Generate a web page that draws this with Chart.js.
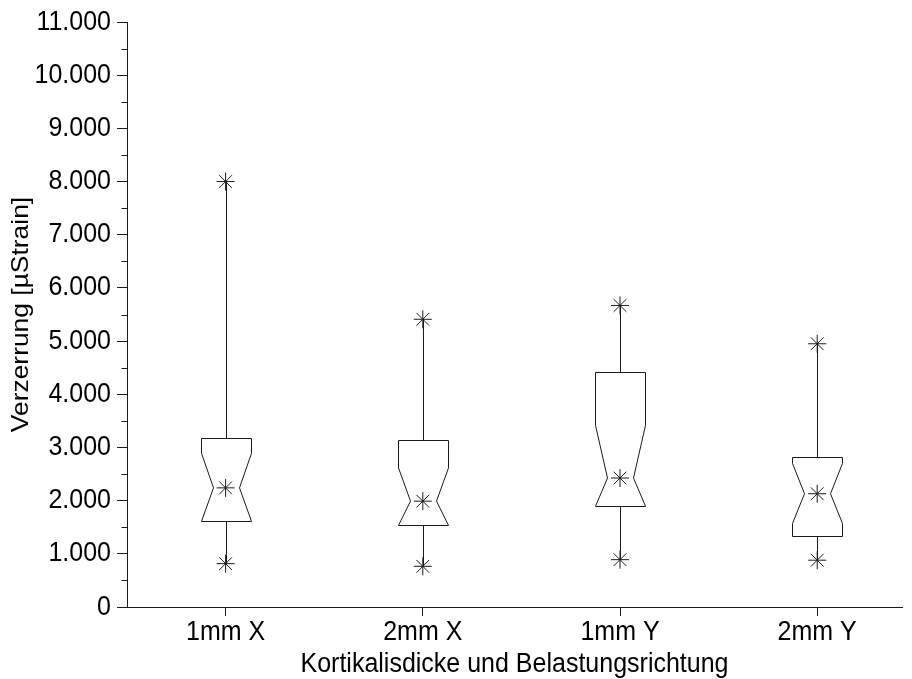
<!DOCTYPE html>
<html lang="de">
<head>
<meta charset="utf-8">
<title>Verzerrung nach Kortikalisdicke</title>
<script src="https://cdn.jsdelivr.net/npm/chart.js@4.4.1/dist/chart.umd.min.js"></script>
<style>
  html, body { margin: 0; padding: 0; background: #fff; }
  #wrap { width: 912px; height: 679px; position: relative; }
</style>
</head>
<body>
<div id="wrap"><canvas id="boxChart"></canvas></div>
<script>
// Kategorien (Kortikalisdicke / Belastungsrichtung)
const categories = ['1mm X', '2mm X', '1mm Y', '2mm Y'];

// Kennwerte je Gruppe in µStrain
const maxVals       = [8000, 5410, 5670, 4950];
const q3Vals        = [3185, 3135, 4420, 2820];
const notchHighVals = [2890, 2615, 3415, 2700];
const medianVals    = [2240, 1990, 2425, 2130];
const notchLowVals  = [1610, 1535, 1895, 1570];
const q1Vals        = [1610, 1535, 1895, 1335];
const minVals       = [815, 765, 890, 880];

const yTicks      = [0, 1000, 2000, 3000, 4000, 5000, 6000, 7000, 8000, 9000, 10000, 11000];
const yTickLabels = ['0', '1.000', '2.000', '3.000', '4.000', '5.000', '6.000', '7.000', '8.000', '9.000', '10.000', '11.000'];

const xTitle = 'Kortikalisdicke und Belastungsrichtung';
const yTitle = 'Verzerrung [µStrain]';

const FONT = "'Liberation Sans', Arial, sans-serif";
const INK = '#1a1a1a';

// Sternmarker: Maximum, Median, Minimum
const starPoints = [];
categories.forEach((c, i) => {
  starPoints.push({ x: i + 1, y: maxVals[i] });
  starPoints.push({ x: i + 1, y: medianVals[i] });
  starPoints.push({ x: i + 1, y: minVals[i] });
});

// Text mit leicht gestreckter Höhe
function drawText(ctx, text, x, y, size, stretch, align, rotated) {
  ctx.save();
  ctx.translate(x, y);
  if (rotated) {
    ctx.rotate(-Math.PI / 2);
    ctx.scale(stretch, 1);
  } else {
    ctx.scale(1, stretch);
  }
  ctx.font = `${size}px ${FONT}`;
  ctx.fillStyle = '#000';
  ctx.textAlign = align;
  ctx.textBaseline = 'middle';
  ctx.fillText(text, 0, 0);
  ctx.restore();
}

// Gekerbte Boxen und Whisker
const notchedBoxes = {
  id: 'notchedBoxes',
  beforeDatasetsDraw(chart) {
    const { ctx, scales: { x, y } } = chart;
    const hw = 25;   // halbe Boxbreite
    const nw = 13;   // halbe Breite an der Kerbe
    const px = (v) => Math.round(v) + 0.5;
    ctx.save();
    ctx.strokeStyle = INK;
    ctx.lineWidth = 1;
    categories.forEach((c, i) => {
      const cx = px(x.getPixelForValue(i + 1));
      const yMax = y.getPixelForValue(maxVals[i]);
      const yQ3 = px(y.getPixelForValue(q3Vals[i]));
      const yNh = y.getPixelForValue(notchHighVals[i]);
      const yMed = y.getPixelForValue(medianVals[i]);
      const yNl = y.getPixelForValue(notchLowVals[i]);
      const yQ1 = px(y.getPixelForValue(q1Vals[i]));
      const yMin = y.getPixelForValue(minVals[i]);

      ctx.beginPath();
      ctx.moveTo(cx - hw, yQ3);
      ctx.lineTo(cx + hw, yQ3);
      ctx.lineTo(cx + hw, yNh);
      ctx.lineTo(cx + nw, yMed);
      ctx.lineTo(cx + hw, yNl);
      ctx.lineTo(cx + hw, yQ1);
      ctx.lineTo(cx - hw, yQ1);
      ctx.lineTo(cx - hw, yNl);
      ctx.lineTo(cx - nw, yMed);
      ctx.lineTo(cx - hw, yNh);
      ctx.closePath();
      ctx.stroke();

      ctx.beginPath();
      ctx.moveTo(cx, yQ3);
      ctx.lineTo(cx, yMax);
      ctx.moveTo(cx, yQ1);
      ctx.lineTo(cx, yMin);
      ctx.stroke();
    });

    // Zwischenstriche an der y-Achse
    const left = px(chart.chartArea.left);
    ctx.beginPath();
    for (let k = 0; k < yTicks.length - 1; k++) {
      const yy = px(y.getPixelForValue((yTicks[k] + yTicks[k + 1]) / 2));
      ctx.moveTo(left - 6, yy);
      ctx.lineTo(left, yy);
    }
    ctx.stroke();
    ctx.restore();
  },
  afterDraw(chart) {
    const { ctx, chartArea, scales: { x, y } } = chart;
    yTicks.forEach((v, k) => {
      drawText(ctx, yTickLabels[k], chartArea.left - 16, y.getPixelForValue(v), 25, 1.1, 'right', false);
    });
    categories.forEach((c, i) => {
      drawText(ctx, c, x.getPixelForValue(i + 1), chartArea.bottom + 25, 25, 1.1, 'center', false);
    });
    drawText(ctx, xTitle, (chartArea.left + chartArea.right) / 2, chartArea.bottom + 57, 25, 1.1, 'center', false);
    drawText(ctx, yTitle, 21, (chartArea.top + chartArea.bottom) / 2, 24, 1.1, 'center', true);
  },
};

new Chart(document.getElementById('boxChart'), {
  type: 'scatter',
  data: {
    datasets: [{
      data: starPoints,
      pointStyle: 'star',
      pointRadius: 9,
      pointHoverRadius: 9,
      borderColor: INK,
      borderWidth: 1,
      backgroundColor: INK,
    }],
  },
  options: {
    responsive: true,
    maintainAspectRatio: false,
    animation: false,
    layout: { padding: { top: 22, right: 4, left: 0, bottom: 0 } },
    plugins: { legend: { display: false }, tooltip: { enabled: false } },
    scales: {
      x: {
        type: 'linear',
        min: 0.5,
        max: 4.43,
        afterBuildTicks: (s) => { s.ticks = categories.map((c, i) => ({ value: i + 1 })); },
        afterFit: (s) => { s.height = 72; },
        grid: { drawOnChartArea: false, drawTicks: true, tickLength: 9, color: INK, tickColor: INK },
        border: { display: true, color: INK, width: 1 },
        ticks: { display: false },
        title: { display: false },
      },
      y: {
        min: 0,
        max: 11000,
        afterBuildTicks: (s) => { s.ticks = yTicks.map((v) => ({ value: v })); },
        afterFit: (s) => { s.width = 127; },
        grid: { drawOnChartArea: false, drawTicks: true, tickLength: 10, color: INK, tickColor: INK },
        border: { display: true, color: INK, width: 1 },
        ticks: { display: false },
        title: { display: false },
      },
    },
  },
  plugins: [notchedBoxes],
});
</script>
</body>
</html>
